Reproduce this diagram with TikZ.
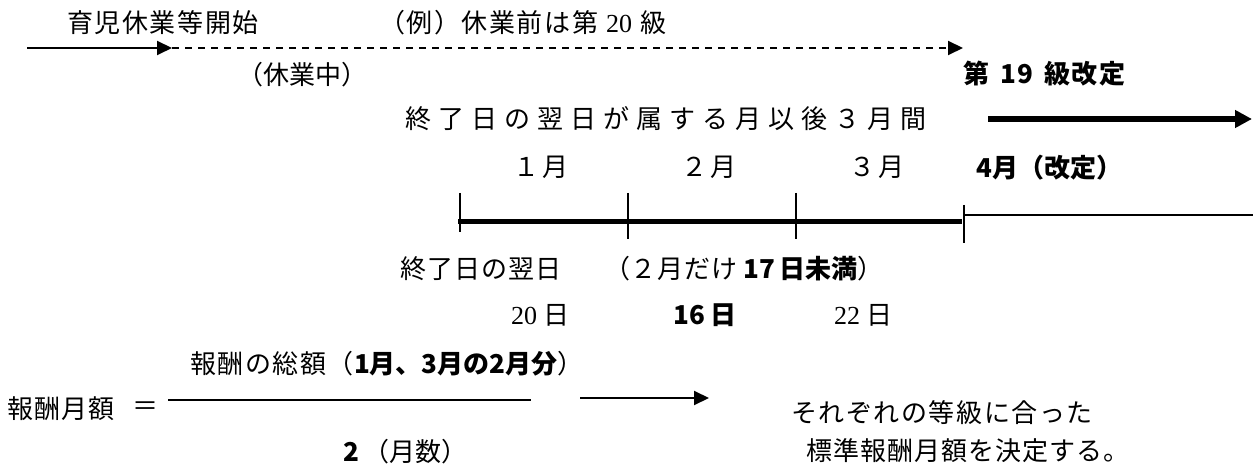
\documentclass[tikz,border=0pt]{standalone}
\usepackage{fontspec}
\setmainfont{Noto Sans CJK JP}
\newfontfamily\lser{Liberation Serif}
\usetikzlibrary{arrows.meta}
\newcommand\lsp[2]{{\addfontfeature{LetterSpace=#1}#2}}
\begin{document}
\begin{tikzpicture}[x=1pt,y=-1pt,
  t/.style={inner sep=0pt, font=\fontsize{26}{30}\selectfont},
  tb/.style={inner sep=0pt, font=\fontsize{26}{30}\selectfont\bfseries},
  arr/.style={line width=2pt, -{Triangle[length=15pt,width=14pt]}},
  thickarr/.style={line width=6pt, -{Triangle[length=17pt,width=17pt]}},
  timeline/.style={line width=5pt},
  tickline/.style={line width=1.5pt},
  thinline/.style={line width=1.2pt},
  fracline/.style={line width=1.5pt}]
\useasboundingbox (0,0) rectangle (1258,470);

% ---- row 1 ----
\node[t] (start) at (163,23) {\lsp{6}{育児休業等開始}};
\node[t,anchor=west] (ex) at (379,23) {\lsp{6}{（例）休業前は第\hspace{8pt}{\lser 20}\hspace{8pt}級}};
\coordinate (a0) at (27,48);
\coordinate (a1) at (172,48);
\coordinate (a2) at (963,48);
\draw[arr] (a0) -- (a1);
\draw[arr, dash pattern=on 7pt off 6pt] (a1) -- (a2);

\node[t] (kyu) at (302,75) {（休業中）};
\node[tb,anchor=west] (r19) at (963,74) {\lsp{6}{第\hspace{11pt}19\hspace{11pt}級改定}};

% ---- row 3 ----
\node[t] (after) at (666,119) {\lsp{27}{終了日の翌日が属する月以後３月間}};
\coordinate (b0) at (988,119);
\coordinate (b1) at (1252,119);
\draw[thickarr] (b0) -- (b1);

% ---- months ----
\node[t] (m1) at (541,167) {\lsp{8}{１月}};
\node[t] (m2) at (709,167) {\lsp{8}{２月}};
\node[t] (m3) at (877,167) {\lsp{8}{３月}};
\node[tb,anchor=west] (m4) at (976,168) {4月（改定）};

% ---- timeline ----
\coordinate (L0) at (458,222);
\coordinate (L1) at (962,222);
\draw[timeline] (L0) -- (L1);
\coordinate (k1a) at (460,193); \coordinate (k1b) at (460,232);
\coordinate (k2a) at (628,193); \coordinate (k2b) at (628,239);
\coordinate (k3a) at (796,193); \coordinate (k3b) at (796,239);
\coordinate (k4a) at (964,205); \coordinate (k4b) at (964,243);
\draw[tickline] (k1a) -- (k1b);
\draw[tickline] (k2a) -- (k2b);
\draw[tickline] (k3a) -- (k3b);
\draw[tickline] (k4a) -- (k4b);
\coordinate (n0) at (964,215);
\coordinate (n1) at (1253,215);
\draw[thinline] (n0) -- (n1);

% ---- below timeline ----
\node[t] (nd) at (481,269) {\lsp{4}{終了日の翌日}};
\node[t] (only) at (744,269) {\lsp{3}{（２月だけ\hspace{6pt}}{\bfseries 17\hspace{5pt}日未満}）};

\node[t] (d1) at (540,315) {{\lser 20}\hspace{6pt}日};
\node[tb] (d2) at (705,315) {16\hspace{5pt}日};
\node[t] (d3) at (863,315) {{\lser 22}\hspace{6pt}日};

% ---- formula ----
\node[t,anchor=west] (sum) at (190,364) {\lsp{6}{報酬の総額（}{\bfseries 1月、3月の2月分}）};
\node[t] (mon) at (61,409) {\lsp{5}{報酬月額}};
\node[t] (eq) at (145,409) {＝};
\coordinate (f0) at (168,400);
\coordinate (f1) at (531,400);
\draw[fracline] (f0) -- (f1);
\node[t,anchor=west] (den) at (343,452) {{\bfseries 2}\hspace{4pt}（月数）};

\coordinate (c0) at (580,398);
\coordinate (c1) at (709,398);
\draw[arr] (c0) -- (c1);

\node[t] (each) at (942,413) {\lsp{6}{それぞれの等級に合った}};
\node[t] (std) at (968,451) {\lsp{4}{標準報酬月額を決定する。}};
\end{tikzpicture}
\end{document}
